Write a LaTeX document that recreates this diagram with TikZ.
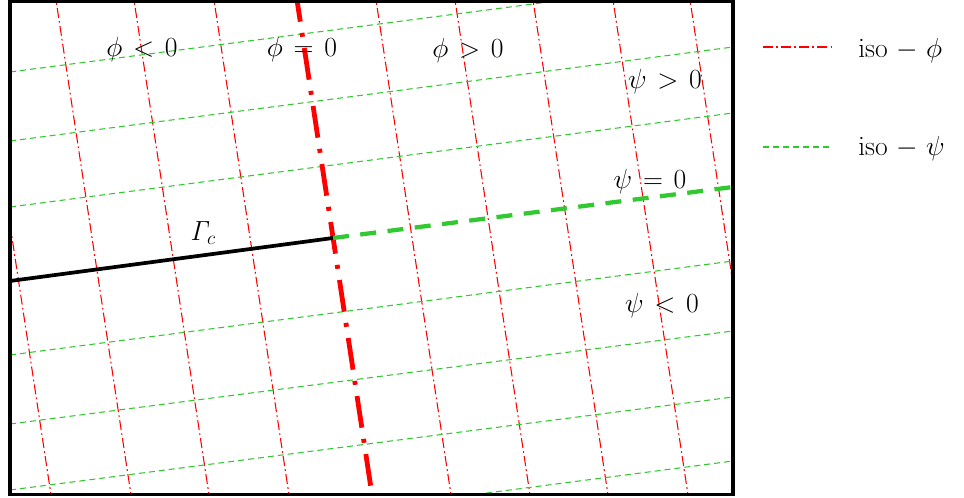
\documentclass[tikz,border=0pt]{standalone}
\thickmuskip=7mu plus 5mu
\medmuskip=5.5mu plus 2mu minus 4mu
\definecolor{isogreen}{RGB}{50,200,50}
\definecolor{isored}{RGB}{255,0,0}
\tikzset{
  isophi/.style={draw=isored, line width=0.8pt, dash pattern=on 7.5pt off 2.4pt on 1.3pt off 2.4pt},
  isopsi/.style={draw=isogreen, line width=0.8pt, dash pattern=on 4.5pt off 3pt},
  phizero/.style={draw=isored, line width=3.6pt, dash pattern=on 24pt off 8.5pt on 3pt off 8.5pt},
  psizero/.style={draw=isogreen, line width=3.2pt, dash pattern=on 12pt off 8.6pt},
  crack/.style={draw=black, line width=2.8pt},
  frame/.style={draw=black, line width=2.6pt},
  lbl/.style={font=\huge, inner sep=0pt},
  leglbl/.style={font=\huge, inner sep=0pt, anchor=west}
}
\begin{document}
\begin{tikzpicture}[x=0.75pt,y=-0.75pt]
\useasboundingbox (0,0) rectangle (964,498);
\begin{scope}
  \clip (10,1.5) rectangle (733,494.5);
  % thin iso-phi lines
  \foreach \t in {-24,56,134,214,376,455,533,613,690}{
    \draw[isophi] (\t-1.515,-10) -- (\t+77.3,510);
  }
  % thin iso-psi lines
  \foreach \l/\r in {72/-22,141/47,207/113,355/261,424/331,490/397,555/461}{
    \draw[isopsi] (10,\l) -- (733,\r);
  }
  % phi = 0
  \draw[phizero] (297-1.515,-10) -- (297+77.3,510);
  % psi = 0 and crack
  \coordinate (gL) at (10,281);
  \coordinate (gC) at (333,238);
  \coordinate (gR) at (733,187);
  \draw[psizero] (gC) -- (gR);
  \draw[crack] (gL) -- (gC);
\end{scope}
\draw[frame] (10,1.5) rectangle (733,494.5);
% labels
\node[lbl] (phineg) at (142,50) {$\phi<0$};
\node[lbl] (phizer) at (302,50) {$\phi=0$};
\node[lbl] (phipos) at (468,51) {$\phi>0$};
\node[lbl] (psipos) at (665,82) {$\psi>0$};
\node[lbl] (psizer) at (650,182) {$\psi=0$};
\node[lbl] (psineg) at (662,306) {$\psi<0$};
\node[lbl] (gamc) at (203,233) {$\mathit{\Gamma}_c$};
% legend
\coordinate (la1) at (763,47);
\coordinate (lb1) at (833,47);
\coordinate (la2) at (763,147);
\coordinate (lb2) at (833,147);
\draw[isophi, line width=1.1pt] (la1) -- (lb1);
\draw[isopsi, line width=1.1pt] (la2) -- (lb2);
\node[leglbl] (leg1) at (858,51) {$\mathrm{iso}-\phi$};
\node[leglbl] (leg2) at (858,149) {$\mathrm{iso}-\psi$};
\end{tikzpicture}
\end{document}
